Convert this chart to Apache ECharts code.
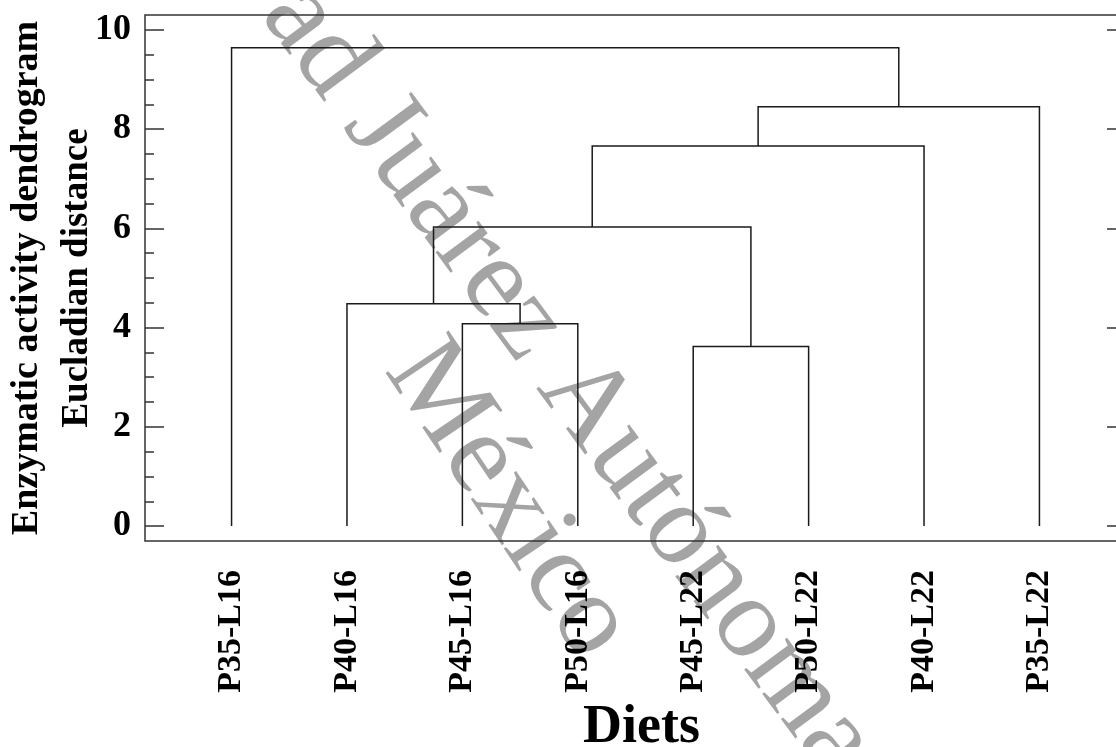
<!DOCTYPE html>
<html>
<head>
<meta charset="utf-8">
<title>Enzymatic activity dendrogram</title>
<script src="https://cdn.jsdelivr.net/npm/echarts@6.0.0/dist/echarts.min.js"></script>
<style>
  html, body { margin: 0; padding: 0; background: #fff; }
  #chart { width: 1116px; height: 747px; }
</style>
</head>
<body>
<div id="chart"></div>
<script>
// Leaves of the dendrogram, in drawing order
const leaves = ['P35-L16', 'P40-L16', 'P45-L16', 'P50-L16', 'P45-L22', 'P50-L22', 'P40-L22', 'P35-L22'];

// Agglomeration steps: node ids < 8 are leaves, step k creates node 8 + k
const mergeLeft   = [4, 2, 1, 10, 11, 12, 0];
const mergeRight  = [5, 3, 9, 8, 6, 7, 13];
const mergeHeight = [3.62, 4.08, 4.48, 6.03, 7.66, 8.45, 9.64];

// Axis ticks
const yMajorTicks = [0, 2, 4, 6, 8, 10];
const yMinorTicks = [0.5, 1, 1.5, 2.5, 3, 3.5, 4.5, 5, 5.5, 6.5, 7, 7.5, 8.5, 9, 9.5];

// Node positions: leaves sit at 1..n on the x axis with height 0
const nodeX = leaves.map((_, i) => i + 1);
const nodeH = leaves.map(() => 0);
const links = [];
mergeLeft.forEach((l, k) => {
  const r = mergeRight[k];
  const h = mergeHeight[k];
  links.push([nodeX[l], nodeH[l], nodeX[r], nodeH[r], h]);
  nodeX.push((nodeX[l] + nodeX[r]) / 2);
  nodeH.push(h);
});

const serif = '"Liberation Serif", "Times New Roman", serif';
const chart = echarts.init(document.getElementById('chart'), null, { renderer: 'canvas' });

const yBase = {
  type: 'value',
  min: -0.3,
  max: 10.3,
  splitLine: { show: false },
  axisLine: { show: false }
};

chart.setOption({
  backgroundColor: '#ffffff',
  animation: false,
  grid: {
    left: 145, top: 15, width: 981, height: 526,
    outerBoundsMode: 'none',
    containLabel: false,
    show: true, borderColor: '#333', borderWidth: 1.5, backgroundColor: 'transparent'
  },
  xAxis: [{
    type: 'value',
    min: 0.25,
    max: 8.75,
    splitLine: { show: false },
    axisLine: { show: false },
    axisTick: { show: false },
    axisLabel: {
      customValues: leaves.map((_, i) => i + 1),
      formatter: v => leaves[Math.round(v) - 1] || '',
      rotate: 90,
      margin: 29,
      fontSize: 34,
      fontWeight: 'bold',
      fontFamily: serif,
      color: '#000'
    },
    name: 'Diets',
    nameLocation: 'middle',
    nameGap: 155,
    nameTextStyle: { fontSize: 54, fontWeight: 'bold', fontFamily: serif, color: '#000',
                     padding: [0, 0, 0, 12] }
  }],
  yAxis: [
    Object.assign({}, yBase, {
      position: 'left',
      axisTick: { show: true, inside: true, length: 19, customValues: yMajorTicks,
                  lineStyle: { color: '#333', width: 1.5 } },
      axisLabel: { customValues: yMajorTicks, margin: 14, fontSize: 36, fontWeight: 'bold',
                   fontFamily: serif, color: '#000' },
      name: 'Enzymatic activity dendrogram',
      nameLocation: 'middle',
      nameRotate: 90,
      nameGap: 99,
      nameTextStyle: { fontSize: 38, fontWeight: 'bold', fontFamily: serif, color: '#000' }
    }),
    Object.assign({}, yBase, {
      position: 'left',
      axisTick: { show: true, inside: true, length: 9, customValues: yMinorTicks,
                  lineStyle: { color: '#333', width: 1.5 } },
      axisLabel: { show: false },
      name: 'Eucladian distance',
      nameLocation: 'middle',
      nameRotate: 90,
      nameGap: 49,
      nameTextStyle: { fontSize: 37, fontWeight: 'bold', fontFamily: serif, color: '#000' }
    }),
    Object.assign({}, yBase, {
      position: 'right',
      axisTick: { show: true, inside: true, length: 19, customValues: yMajorTicks,
                  lineStyle: { color: '#333', width: 1.5 } },
      axisLabel: { show: false }
    })
  ],
  graphic: [
    {
      type: 'text', x: 568, y: 380, rotation: -53.5 * Math.PI / 180, z: -1,
      style: { text: 'ad Juárez Autónoma', font: '116px ' + serif, fill: '#a4a4a4',
               align: 'center', verticalAlign: 'middle' }
    },
    {
      type: 'text', x: 508, y: 500, rotation: -56 * Math.PI / 180, z: -1,
      style: { text: 'México', font: '116px ' + serif, fill: '#a4a4a4',
               align: 'center', verticalAlign: 'middle' }
    }
  ],
  series: [{
    type: 'custom',
    xAxisIndex: 0,
    yAxisIndex: 0,
    z: 5,
    dimensions: ['xl', 'hl', 'xr', 'hr', 'h'],
    encode: { x: [0, 2], y: [1, 3, 4] },
    data: links,
    renderItem: (params, api) => {
      const a = api.coord([api.value(0), api.value(1)]);
      const b = api.coord([api.value(0), api.value(4)]);
      const c = api.coord([api.value(2), api.value(4)]);
      const d = api.coord([api.value(2), api.value(3)]);
      return {
        type: 'polyline',
        shape: { points: [a, b, c, d] },
        style: { stroke: '#1a1a1a', lineWidth: 1.5, fill: null }
      };
    }
  }]
});
</script>
</body>
</html>
